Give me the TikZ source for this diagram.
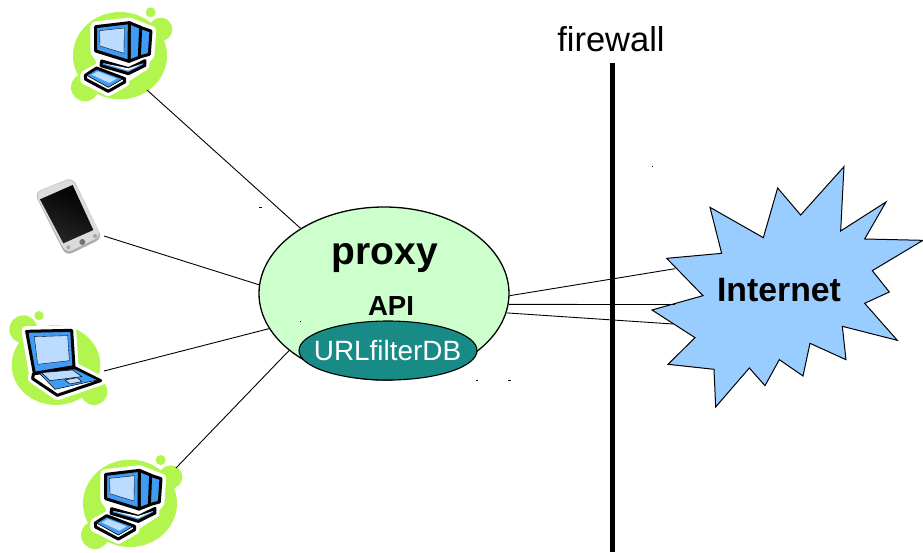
\documentclass[tikz,border=0pt]{standalone}
\usepackage{fontspec}
\setmainfont{Liberation Sans}
\usetikzlibrary{shapes.geometric}
\definecolor{blobgreen}{HTML}{B2F54E}
\definecolor{iconblue}{HTML}{3F9BF4}
\definecolor{iconlight}{HTML}{BBDBFF}
\definecolor{proxygreen}{HTML}{CCFFCC}
\definecolor{dbteal}{HTML}{188B87}
\definecolor{cloudblue}{HTML}{99CCFF}
\tikzset{
  link/.style={draw=black,line width=0.9pt},
  speck/.style={fill=black},
  blackedge/.style={draw=black,line width=3pt,line join=round},
  halo/.style={draw=white,fill=white,line width=9pt,line join=round},
}
\newcommand{\desktopicon}[2]{%
\begin{scope}[shift={(#1,#2)},x=.3333pt,y=-.3333pt]
  \fill[blobgreen] (210,167) ellipse [x radius=141,y radius=131];
  \fill[blobgreen] (105,262) circle (42);
  \fill[blobgreen] (332,88) circle (35);
  \fill[blobgreen] (302,37) circle (15);
  \path[halo] (135,78)--(238,66)--(305,92)--(300,165)--(285,182)--(285,197)--(225,235)--(225,247)--(175,275)--(105,240)--(105,225)--(150,200)--(152,180)--(135,155)--cycle;
  \path[blackedge,fill=iconblue] (270,82)--(303,93)--(298,163)--(265,172)--cycle;
  \path[blackedge,fill=iconblue] (238,68)--(272,82)--(268,172)--(237,184)--cycle;
  \path[blackedge,fill=iconblue] (155,183)--(236,206)--(285,182)--(285,196)--(235,221)--(153,197)--cycle;
  \fill[white] (160,190)--(235,212)--(280,190)--(235,205)--cycle;
  \path[blackedge,fill=iconblue] (137,80)--(238,68)--(237,184)--(137,153)--cycle;
  \path[draw=black,line width=.35pt,fill=iconlight] (149,92)--(223,84)--(222,160)--(150,138)--cycle;
  \path[blackedge,fill=white] (106,226)--(140,204)--(224,236)--(224,246)--(175,274)--(107,238)--cycle;
  \path[draw=black,line width=.6pt,fill=iconblue] (110,226)--(140,208)--(218,237)--(175,262)--cycle;
  \fill[iconlight] (125,224)--(143,214)--(200,236)--(178,249)--cycle;
\end{scope}}
\begin{document}
\begin{tikzpicture}[x=1pt,y=-1pt]
\useasboundingbox (0,0) rectangle (923,552);

% client icons
\desktopicon{50}{0}
\desktopicon{60}{447.7}

% laptop
\begin{scope}[shift={(0,170)},x=.3333pt,y=-.3333pt]
  \fill[blobgreen] (168,585) ellipse [x radius=133,y radius=120];
  \fill[blobgreen] (70,478) circle (42);
  \fill[blobgreen] (282,665) circle (40);
  \fill[blobgreen] (117,437) circle (14);
  \path[halo] (78,482)--(215,480)--(222,590)--(303,632)--(172,677)--(97,625)--(100,610)--cycle;
  \path[blackedge,fill=iconblue] (80,484)--(215,481)--(222,590)--(103,610)--cycle;
  \path[draw=black,line width=.35pt,fill=iconlight] (103,500)--(203,497)--(208,572)--(113,583)--cycle;
  \path[blackedge,fill=white] (100,612)--(222,592)--(302,632)--(172,676)--(98,626)--cycle;
  \path[draw=black,line width=.5pt,fill=iconblue] (118,610)--(225,597)--(292,630)--(165,658)--cycle;
  \path[draw=black,line width=.5pt,fill=iconlight] (125,608)--(218,600)--(245,620)--(150,632)--cycle;
  \path[draw=black,line width=.5pt,fill=iconlight] (195,630)--(232,623)--(245,635)--(210,642)--cycle;
\end{scope}

% phone
\begin{scope}[shift={(0,170)},x=.3333pt,y=-.3333pt]
  \path[rounded corners=7pt,fill=black!32] (103,68)--(218,22)--(307,205)--(198,258)--cycle;
  \path[rounded corners=7pt,fill=black!14] (105,68)--(217,24)--(304,198)--(198,250)--cycle;
  \path[top color=black,bottom color=black!85,shading angle=-25] (120,88)--(218,45)--(280,180)--(190,220)--cycle;
  \fill[black!55] (247,216) circle (9);
  \fill[black!35] (205,232) circle (6);
  \fill[black!35] (285,198) circle (6);
\end{scope}

% main shapes
\node[ellipse,draw=black,line width=1.3pt,fill=proxygreen,minimum width=250pt,minimum height=173pt,inner sep=0pt] (proxy) at (384,293.5) {};
\node[ellipse,draw=black,line width=1.1pt,fill=dbteal,minimum width=178pt,minimum height=59pt,inner sep=0pt] (db) at (388,350.5) {};
\node[text=white,font=\fontsize{27.9}{30}\selectfont,inner sep=0pt] (dblabel) at (387.5,351) {URLfilterDB};
\node[font=\bfseries\fontsize{39}{42}\selectfont,inner sep=0pt] (proxylabel) at (385,258) {proxy};
\node[font=\bfseries\fontsize{27.6}{30}\selectfont,inner sep=0pt] (api) at (391,306) {API};

% internet burst
\begin{scope}[shift={(640,160)},x=.3333pt,y=-.3333pt]
  \path[draw=black,line width=1pt,fill=cloudblue,line join=miter] (80,295)--(245,280)--(210,142)--(370,233)--(413,84)--(482,165)--(612,20)--(602,213)--(738,126)--(674,237)--(849,241)--(697,332)--(748,396)--(674,430)--(772,541)--(607,499)--(618,599)--(510,550)--(489,648)--(418,599)--(375,677)--(328,624)--(227,741)--(222,628)--(84,613)--(165,533)--(36,450)--(189,407)--cycle;
\end{scope}
\node[font=\bfseries\fontsize{33.8}{36}\selectfont,inner sep=0pt] (internet) at (779,290) {Internet};

% connector ends
\coordinate (pc1) at (147,90);
\coordinate (phone) at (104,236);
\coordinate (laptop) at (104,371);
\coordinate (pc2) at (176,468);
\coordinate (netA) at (675,268.7);
\coordinate (netB) at (675,304.5);
\coordinate (netC) at (673,324);
\draw[link] (pc1) -- (proxy.142.7);
\draw[link] (phone) -- (proxy.176);
\draw[link] (laptop) -- (proxy.197.8);
\draw[link] (pc2) -- (proxy.211.2);
\draw[link] (proxy.359.6) -- (netA);
\draw[link] (proxy.355) -- (netB);
\draw[link] (proxy.351.5) -- (netC);

% firewall
\coordinate (fwtop) at (612,63);
\coordinate (fwbottom) at (612,552);
\draw[draw=black,line width=5pt] (fwtop) -- (fwbottom);
\node[font=\fontsize{34.5}{36}\selectfont,inner sep=0pt] (fwlabel) at (611,39) {firewall};

% specks
\fill[speck] (259,206.5) rectangle +(2.5,1.5);
\fill[speck] (651.5,165.5) rectangle +(1.5,1.5);
\fill[speck] (299.5,320.5) rectangle +(1.5,1.5);
\fill[speck] (476,379.5) rectangle +(1.5,1.5);
\fill[speck] (508,379.5) rectangle +(2.5,1.5);
\end{tikzpicture}
\end{document}
